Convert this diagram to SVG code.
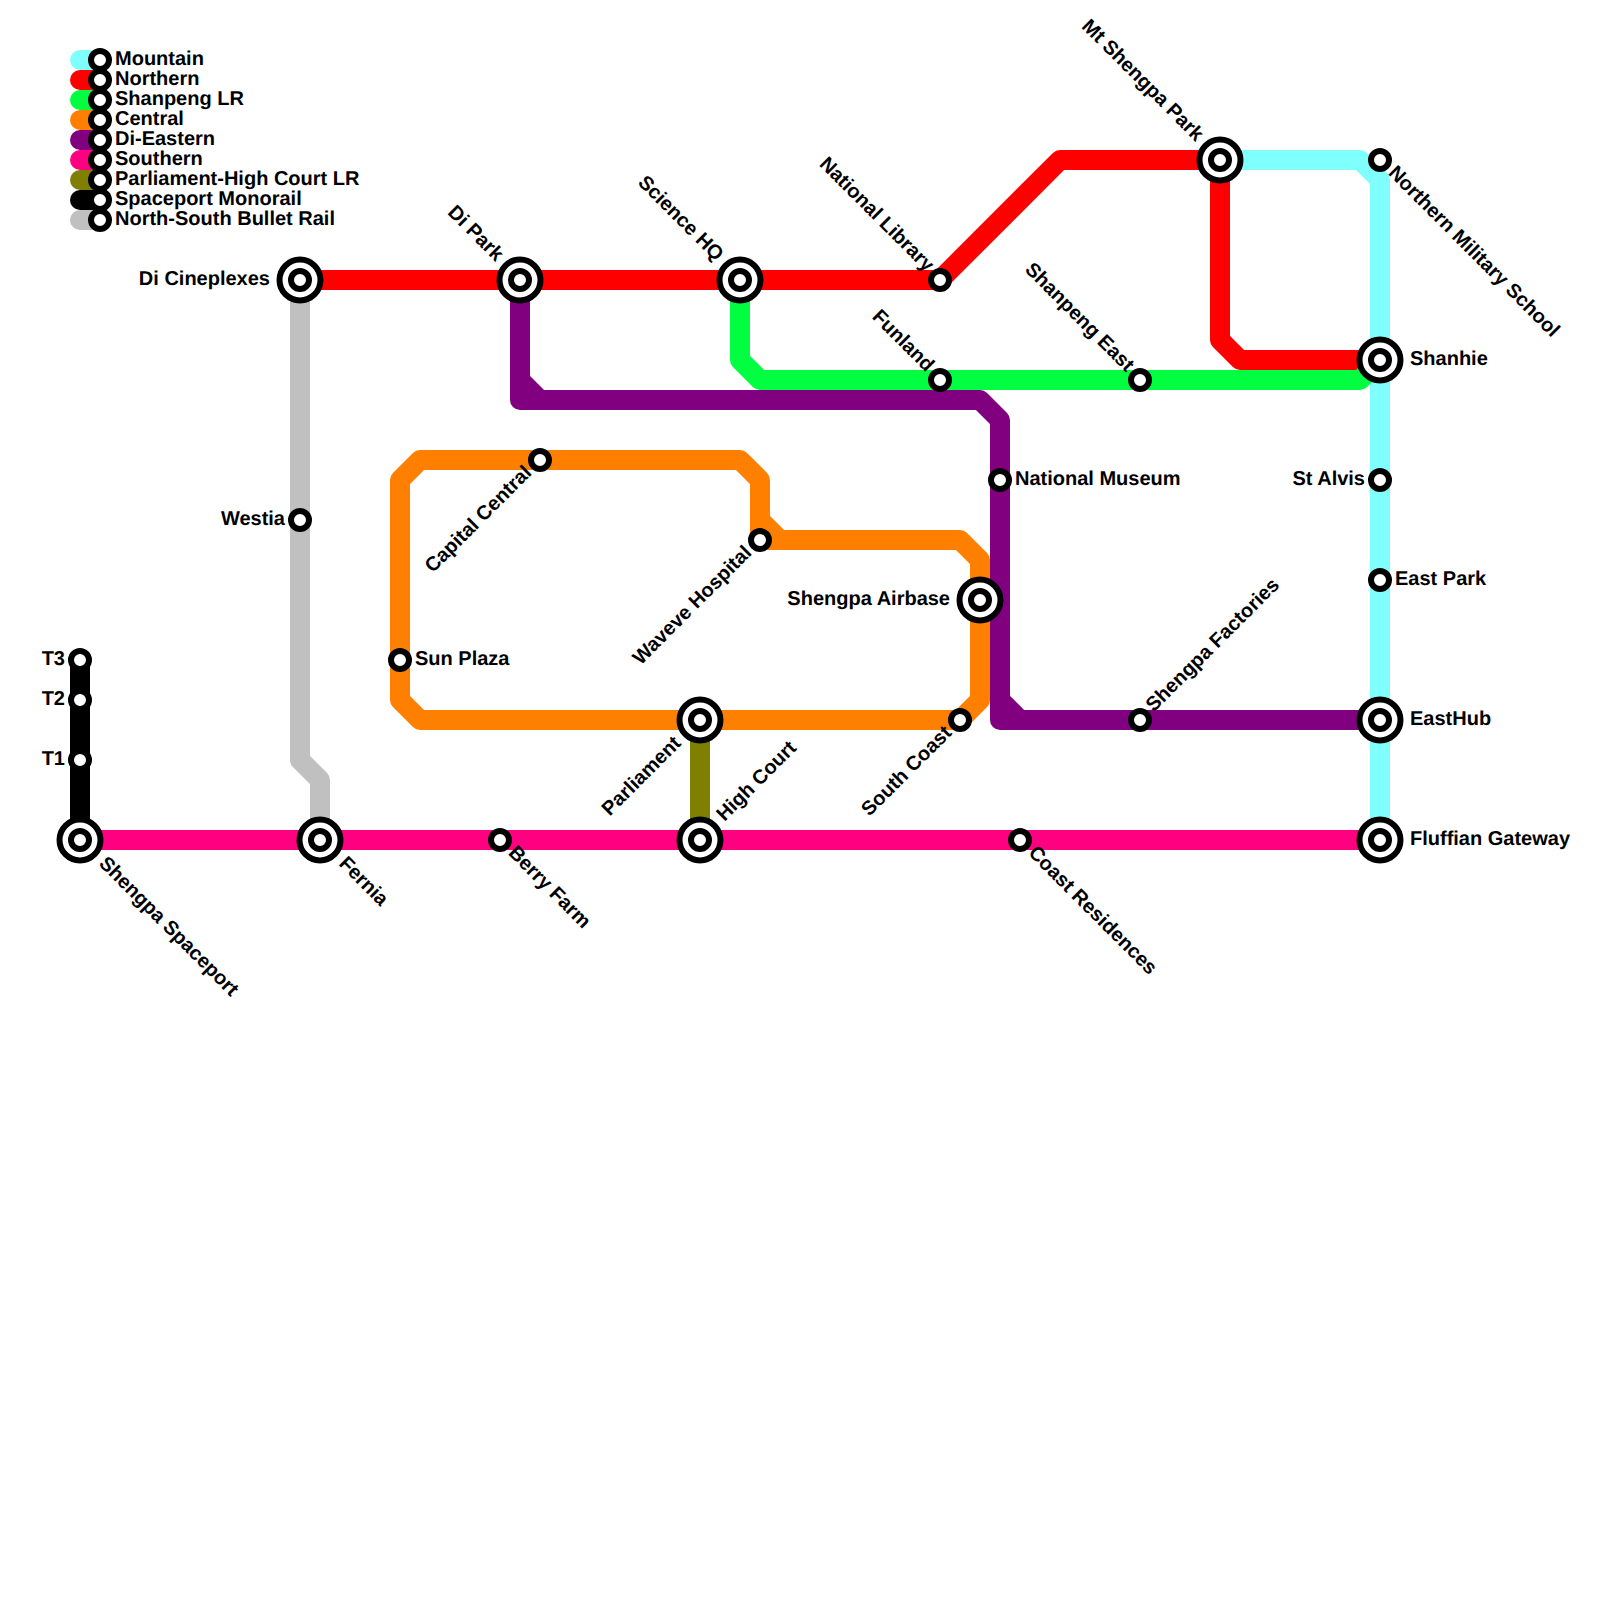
<svg xmlns="http://www.w3.org/2000/svg" width="1600" height="1600" viewBox="0 0 1600 1600">
<style>
.l{fill:none;stroke-width:20;stroke-linecap:round;stroke-linejoin:round}
.o{stroke:#80ffff}.n{stroke:#ff0000}.s{stroke:#00ff40}.c{stroke:#ff8000}.d{stroke:#800080}.p{stroke:#ff0080}.h{stroke:#808000}.m{stroke:#000000}.b{stroke:#c0c0c0}
.st{fill:#fff;stroke:#000;stroke-width:6}
text{font-family:"Liberation Sans",Arial,sans-serif;font-weight:bold;font-size:20px;fill:#000;text-rendering:geometricPrecision}
.e{text-anchor:end}
</style>
<defs>
<g id="small"><circle class="st" r="9"/></g>
<g id="large"><circle class="st" r="20.5"/><circle class="st" r="9"/></g>
</defs>
<g id="connectors">
<path class="l b" d="M300 280V760L320 780V840"/>
<path class="l o" d="M1220 160H1360L1380 180V840"/>
<path class="l n" d="M300 280H940L1060 160H1220V340L1240 360H1380"/>
<path class="l s" d="M740 280V360L760 380H1360L1380 360"/>
<path class="l c" d="M420 460H740L760 480V520L780 540H960L980 560V700L960 720H420L400 700V480Z"/>
<path class="l c" d="M760 520V540H780"/>
<path class="l d" d="M520 280V380L540 400H980L1000 420V700L1020 720H1380"/>
<path class="l d" d="M520 380V400H540M1000 700V720H1020"/>
<path class="l p" d="M80 840H1380"/>
<path class="l h" d="M700 720V840"/>
<path class="l m" d="M80 660V840"/>
</g>
<g id="legend">
<path class="l o" d="M80 60H100"/><path class="l n" d="M80 80H100"/><path class="l s" d="M80 100H100"/><path class="l c" d="M80 120H100"/><path class="l d" d="M80 140H100"/><path class="l p" d="M80 160H100"/><path class="l h" d="M80 180H100"/><path class="l m" d="M80 200H100"/><path class="l b" d="M80 220H100"/>
<use href="#small" x="100" y="60"/><use href="#small" x="100" y="80"/><use href="#small" x="100" y="100"/><use href="#small" x="100" y="120"/><use href="#small" x="100" y="140"/><use href="#small" x="100" y="160"/><use href="#small" x="100" y="180"/><use href="#small" x="100" y="200"/><use href="#small" x="100" y="220"/>
<text x="115" y="64.5">Mountain</text><text x="115" y="84.5">Northern</text><text x="115" y="104.5">Shanpeng LR</text><text x="115" y="124.5">Central</text><text x="115" y="144.5">Di-Eastern</text><text x="115" y="164.5">Southern</text><text x="115" y="184.5">Parliament-High Court LR</text><text x="115" y="204.5">Spaceport Monorail</text><text x="115" y="224.5">North-South Bullet Rail</text>
</g>
<g id="t3"><use href="#small" x="80" y="660"/><text class="e" x="65" y="664.5">T3</text></g>
<g id="t2"><use href="#small" x="80" y="700"/><text class="e" x="65" y="704.5">T2</text></g>
<g id="t1"><use href="#small" x="80" y="760"/><text class="e" x="65" y="764.5">T1</text></g>
<g id="shengpa-spaceport"><use href="#large" x="80" y="840"/><text transform="translate(98 864.4) rotate(45)">Shengpa Spaceport</text></g>
<g id="fernia"><use href="#large" x="320" y="840"/><text transform="translate(338 864.4) rotate(45)">Fernia</text></g>
<g id="berry-farm"><use href="#small" x="500" y="840"/><text transform="translate(507.4 853.8) rotate(45)">Berry Farm</text></g>
<g id="coast-residences"><use href="#small" x="1020" y="840"/><text transform="translate(1027.4 853.8) rotate(45)">Coast Residences</text></g>
<g id="fluffian-gateway"><use href="#large" x="1380" y="840"/><text x="1410" y="844.5">Fluffian Gateway</text></g>
<g id="easthub"><use href="#large" x="1380" y="720"/><text x="1410" y="724.5">EastHub</text></g>
<g id="east-park"><use href="#small" x="1380" y="580"/><text x="1395" y="584.5">East Park</text></g>
<g id="st-alvis"><use href="#small" x="1380" y="480"/><text class="e" x="1365" y="484.5">St Alvis</text></g>
<g id="shanhie"><use href="#large" x="1380" y="360"/><text x="1410" y="364.5">Shanhie</text></g>
<g id="northern-military-school"><use href="#small" x="1380" y="160"/><text transform="translate(1387.4 173.8) rotate(45)">Northern Military School</text></g>
<g id="mt-shengpa-park"><use href="#large" x="1220" y="160"/><text class="e" transform="translate(1195.6 142) rotate(45)">Mt Shengpa Park</text></g>
<g id="shanpeng-east"><use href="#small" x="1140" y="380"/><text class="e" transform="translate(1126.2 372.6) rotate(45)">Shanpeng East</text></g>
<g id="funland"><use href="#small" x="940" y="380"/><text class="e" transform="translate(926.2 372.6) rotate(45)">Funland</text></g>
<g id="national-library"><use href="#small" x="940" y="280"/><text class="e" transform="translate(926.2 272.6) rotate(45)">National Library</text></g>
<g id="science-hq"><use href="#large" x="740" y="280"/><text class="e" transform="translate(715.6 262) rotate(45)">Science HQ</text></g>
<g id="di-park"><use href="#large" x="520" y="280"/><text class="e" transform="translate(495.6 262) rotate(45)">Di Park</text></g>
<g id="di-cineplexes"><use href="#large" x="300" y="280"/><text class="e" x="270" y="284.5">Di Cineplexes</text></g>
<g id="westia"><use href="#small" x="300" y="520"/><text class="e" x="285" y="524.5">Westia</text></g>
<g id="capital-central"><use href="#small" x="540" y="460"/><text class="e" transform="translate(532.6 473.8) rotate(-45)">Capital Central</text></g>
<g id="sun-plaza"><use href="#small" x="400" y="660"/><text x="415" y="664.5">Sun Plaza</text></g>
<g id="waveve-hospital"><use href="#small" x="760" y="540"/><text class="e" transform="translate(752.6 553.8) rotate(-45)">Waveve Hospital</text></g>
<g id="shengpa-airbase"><use href="#large" x="980" y="600"/><text class="e" x="950" y="604.5">Shengpa Airbase</text></g>
<g id="national-museum"><use href="#small" x="1000" y="480"/><text x="1015" y="484.5">National Museum</text></g>
<g id="south-coast"><use href="#small" x="960" y="720"/><text class="e" transform="translate(952.6 733.8) rotate(-45)">South Coast</text></g>
<g id="shengpa-factories"><use href="#small" x="1140" y="720"/><text transform="translate(1153.8 712.6) rotate(-45)">Shengpa Factories</text></g>
<g id="parliament"><use href="#large" x="700" y="720"/><text class="e" transform="translate(682 744.4) rotate(-45)">Parliament</text></g>
<g id="high-court"><use href="#large" x="700" y="840"/><text transform="translate(724.4 822) rotate(-45)">High Court</text></g>
</svg>
